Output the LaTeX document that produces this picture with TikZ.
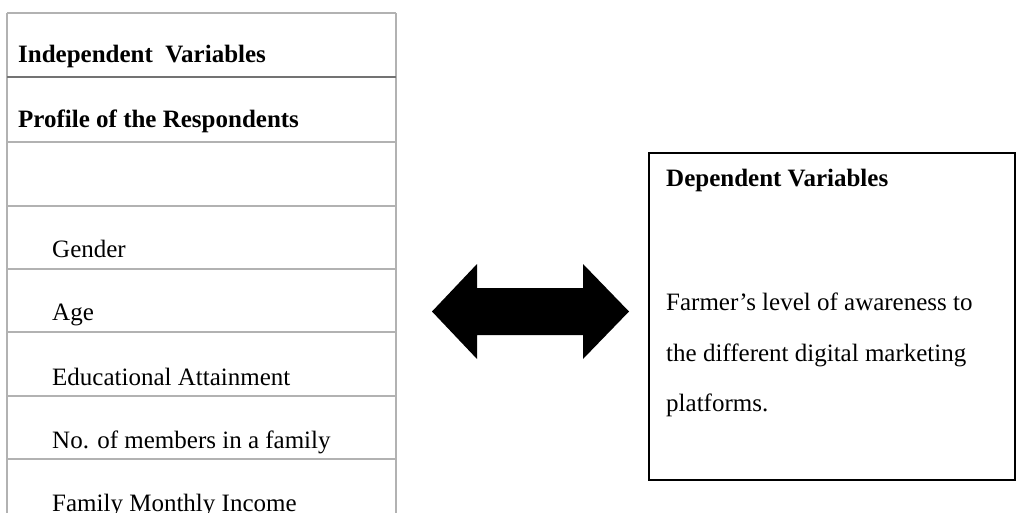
\documentclass[tikz,border=0pt]{standalone}
\usepackage{fontspec}
\setmainfont{Liberation Serif}
\begin{document}
\begin{tikzpicture}[x=1pt,y=-1pt,
  txt/.style={anchor=base west,inner sep=0pt,font=\fontsize{25}{30}\selectfont},
  hdr/.style={txt,font=\fontsize{25}{30}\selectfont\bfseries},
  rule/.style={draw=black!30,line width=1.5pt},
  hrule/.style={draw=black!55,line width=2.2pt}]
\useasboundingbox (0,0) rectangle (1016,513);
% left table
\draw[rule] (7,13) -- (396,13);
\draw[rule] (7,13) -- (7,520);
\draw[rule] (396,13) -- (396,520);
\draw[hrule] (7,77) -- (396,77);
\foreach \yy in {142,206,269,332,396,459} \draw[rule] (7,\yy) -- (396,\yy);
\node[hdr] (indep) at (18,63) {Independent~~Variables};
\node[hdr] (profile) at (18,128) {Profile of the Respondents};
\node[txt] (gender) at (52,257) {Gender};
\node[txt] (age) at (52,320) {Age};
\node[txt] (edu) at (52,385) {Educational Attainment};
\node[txt] (members) at (52,448) {No. of members in a family};
\node[txt] (income) at (52,511) {Family Monthly Income};
% double arrow
\fill[black] (432,311.5) -- (477,264) -- (477,288) -- (583,288) -- (583,264)
  -- (629,311.5) -- (583,359) -- (583,335) -- (477,335) -- (477,359) -- cycle;
% right box
\draw[black,line width=2pt] (649,153) rectangle (1014.5,480);
\node[hdr] (dep) at (666,186) {Dependent Variables};
\node[txt] (l1) at (666,310) {Farmer’s level of awareness to};
\node[txt] (l2) at (666,361) {the different digital marketing};
\node[txt] (l3) at (666,411) {platforms.};
\end{tikzpicture}
\end{document}
